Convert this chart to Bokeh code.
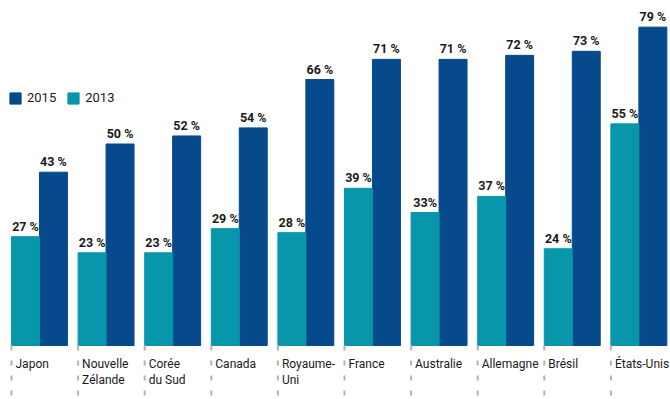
from bokeh.plotting import figure
from bokeh.models import ColumnDataSource, Range1d, Legend, LegendItem
from bokeh.core.properties import value
from bokeh.embed import file_html
from bokeh.resources import INLINE

countries = ["Japon", "Nouvelle\nZélande", "Corée\ndu Sud", "Canada", "Royaume-\nUni",
             "France", "Australie", "Allemagne", "Brésil", "États-Unis"]
values_2013 = [27, 23, 23, 29, 28, 39, 33, 37, 24, 55]
values_2015 = [43, 50, 52, 54, 66, 71, 71, 72, 73, 79]
labels_2013 = ["27 %", "23 %", "23 %", "29 %", "28 %", "39 %", "33%", "37 %", "24 %", "55 %"]
labels_2015 = ["43 %", "50 %", "52 %", "54 %", "66 %", "71 %", "71 %", "72 %", "73 %", "79 %"]

C2015 = "#064a8c"
C2013 = "#0896aa"
FONT = "Roboto"

n = len(countries)
idx = list(range(n))
x13 = [i + 0.375 for i in idx]
x15 = [i + 0.795 for i in idx]
xstart = [i + 0.165 for i in idx]

src = ColumnDataSource(dict(x13=x13, x15=x15, xs=xstart, v13=values_2013, v15=values_2015,
                            l13=labels_2013, l15=labels_2015, c=countries))

PX = 4.03
p = figure(width=670, height=399, output_backend="svg", toolbar_location=None,
           x_range=Range1d(0, 670 / 66.6), y_range=Range1d(-54 / PX, 345 / PX),
           min_border=0, outline_line_color=None)
p.axis.visible = False
p.grid.visible = False
p.background_fill_color = "white"
p.border_fill_color = "white"

r15 = p.vbar(x="x15", top="v15", bottom=0, width=0.42, color=C2015, source=src)
r13 = p.vbar(x="x13", top="v13", bottom=0, width=0.42, color=C2013, source=src)

for xc, vc, lc in (("x13", "v13", "l13"), ("x15", "v15", "l15")):
    p.text(x=xc, y=vc, text=lc, source=src, text_align="center", text_baseline="bottom",
           y_offset=-3, text_font=value(FONT), text_font_size="12.5px", text_font_style="bold",
           text_color="#1a1a1a")

# category ticks (dashed) and labels
p.segment(x0="xs", y0=0, x1="xs", y1=-54 / PX, source=src, line_color="#b3b3b3",
          line_width=2, line_dash="5 10")
p.text(x="xs", y=0, text="c", source=src, x_offset=4, y_offset=11, text_align="left",
       text_baseline="top", text_font=value(FONT), text_font_size="12px",
       text_color="#1a1a1a", text_line_height=1.2)

legend = Legend(items=[LegendItem(label="2015", renderers=[r15]),
                       LegendItem(label="2013", renderers=[r13])],
                orientation="horizontal", location=(8, 294), padding=0, margin=0,
                spacing=10, glyph_width=14, glyph_height=14, label_standoff=5,
                label_text_font=FONT, label_text_font_size="13px",
                label_text_color="#1a1a1a", border_line_color=None,
                background_fill_alpha=0)
p.add_layout(legend)

open("out.html", "w").write(file_html(p, INLINE))
